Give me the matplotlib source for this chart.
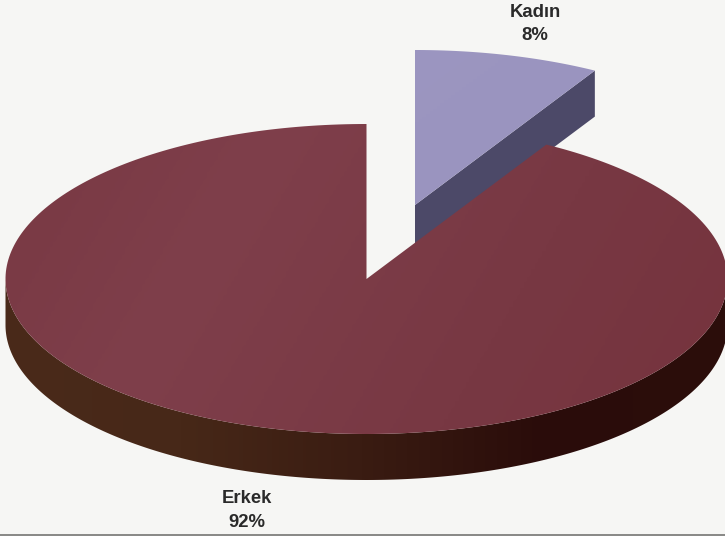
import numpy as np
import matplotlib
matplotlib.use("Agg")
import matplotlib.pyplot as plt
from matplotlib.patches import Polygon, Rectangle
from matplotlib.colors import LinearSegmentedColormap

categories = ["Kadın", "Erkek"]
shares = [8.3, 91.7]

plt.rcParams['font.family'] = ['Liberation Sans', 'DejaVu Sans']
W, H = 725, 536
fig = plt.figure(figsize=(W / 100, H / 100), dpi=100, facecolor='#f6f6f4')
ax = fig.add_axes([0, 0, 1, 1])
ax.set_xlim(0, W)
ax.set_ylim(H, 0)
ax.axis('off')

RX, RY, DEPTH = 361, 155, 46
main_c = (366.5, 279)
kadin_c = (415, 205)

frac = np.array(shares) / sum(shares)
split = frac[0] * 2 * np.pi  # clockwise from 12 o'clock


def arc(c, a0, a1, n=300):
    t = np.linspace(a0, a1, n)
    return np.column_stack([c[0] + RX * np.sin(t), c[1] - RY * np.cos(t)])


def gradient(poly, cmap_colors, direction, zorder):
    nx, ny = 200, 200
    xx, yy = np.meshgrid(np.linspace(0, 1, nx), np.linspace(0, 1, ny))
    z = direction[0] * xx + direction[1] * yy
    cmap = LinearSegmentedColormap.from_list('g', cmap_colors)
    im = ax.imshow(z, extent=(0, W, H, 0), cmap=cmap, aspect='auto',
                   zorder=zorder, interpolation='bilinear')
    patch = Polygon(poly, closed=True, facecolor='none', edgecolor='none',
                    transform=ax.transData)
    ax.add_patch(patch)
    im.set_clip_path(patch)


# Kadın slice: side wall then top
k_arc = arc(kadin_c, 0, split)
k_end = k_arc[-1]
k_side = [kadin_c, k_end, (k_end[0], k_end[1] + DEPTH), (kadin_c[0], kadin_c[1] + DEPTH)]
ax.add_patch(Polygon(k_side, closed=True, facecolor='#4c4968', edgecolor='none', zorder=2))
k_top = np.vstack([[kadin_c], k_arc])
gradient(k_top, ['#9f99c3', '#9a94bf', '#8f89b6'], (0.5, 0.5), 3)

# Erkek slice: outer wall then top
lower = arc(main_c, np.pi / 2, 3 * np.pi / 2)
wall = np.vstack([lower, (lower + [0, DEPTH])[::-1]])
gradient(wall, ['#4a2a1a', '#472818', '#3a1c12', '#2a0c0a', '#2c0e0b'], (1, 0), 4)
e_arc = arc(main_c, split, 2 * np.pi)
e_top = np.vstack([[main_c], e_arc])
gradient(e_top, ['#763640', '#7f3f4b', '#783843', '#75323c'], (0.7, 0.3), 5)

# bottom scan edge
ax.add_patch(Rectangle((0, 534), W, 2, facecolor='#8a8a88', edgecolor='none', zorder=6))

ax.set_xlim(0, W)
ax.set_ylim(H, 0)

labels = [f"{c}\n{round(s)}%" for c, s in zip(categories, shares)]
ax.text(535, 24, labels[0], ha='center', va='center', fontsize=13.3,
        fontweight='bold', color='#2a2a2a', linespacing=1.5, zorder=7)
ax.text(247, 510.5, labels[1], ha='center', va='center', fontsize=13.3,
        fontweight='bold', color='#2a2a2a', linespacing=1.5, zorder=7)

fig.savefig('out.png', dpi=100, facecolor=fig.get_facecolor())
